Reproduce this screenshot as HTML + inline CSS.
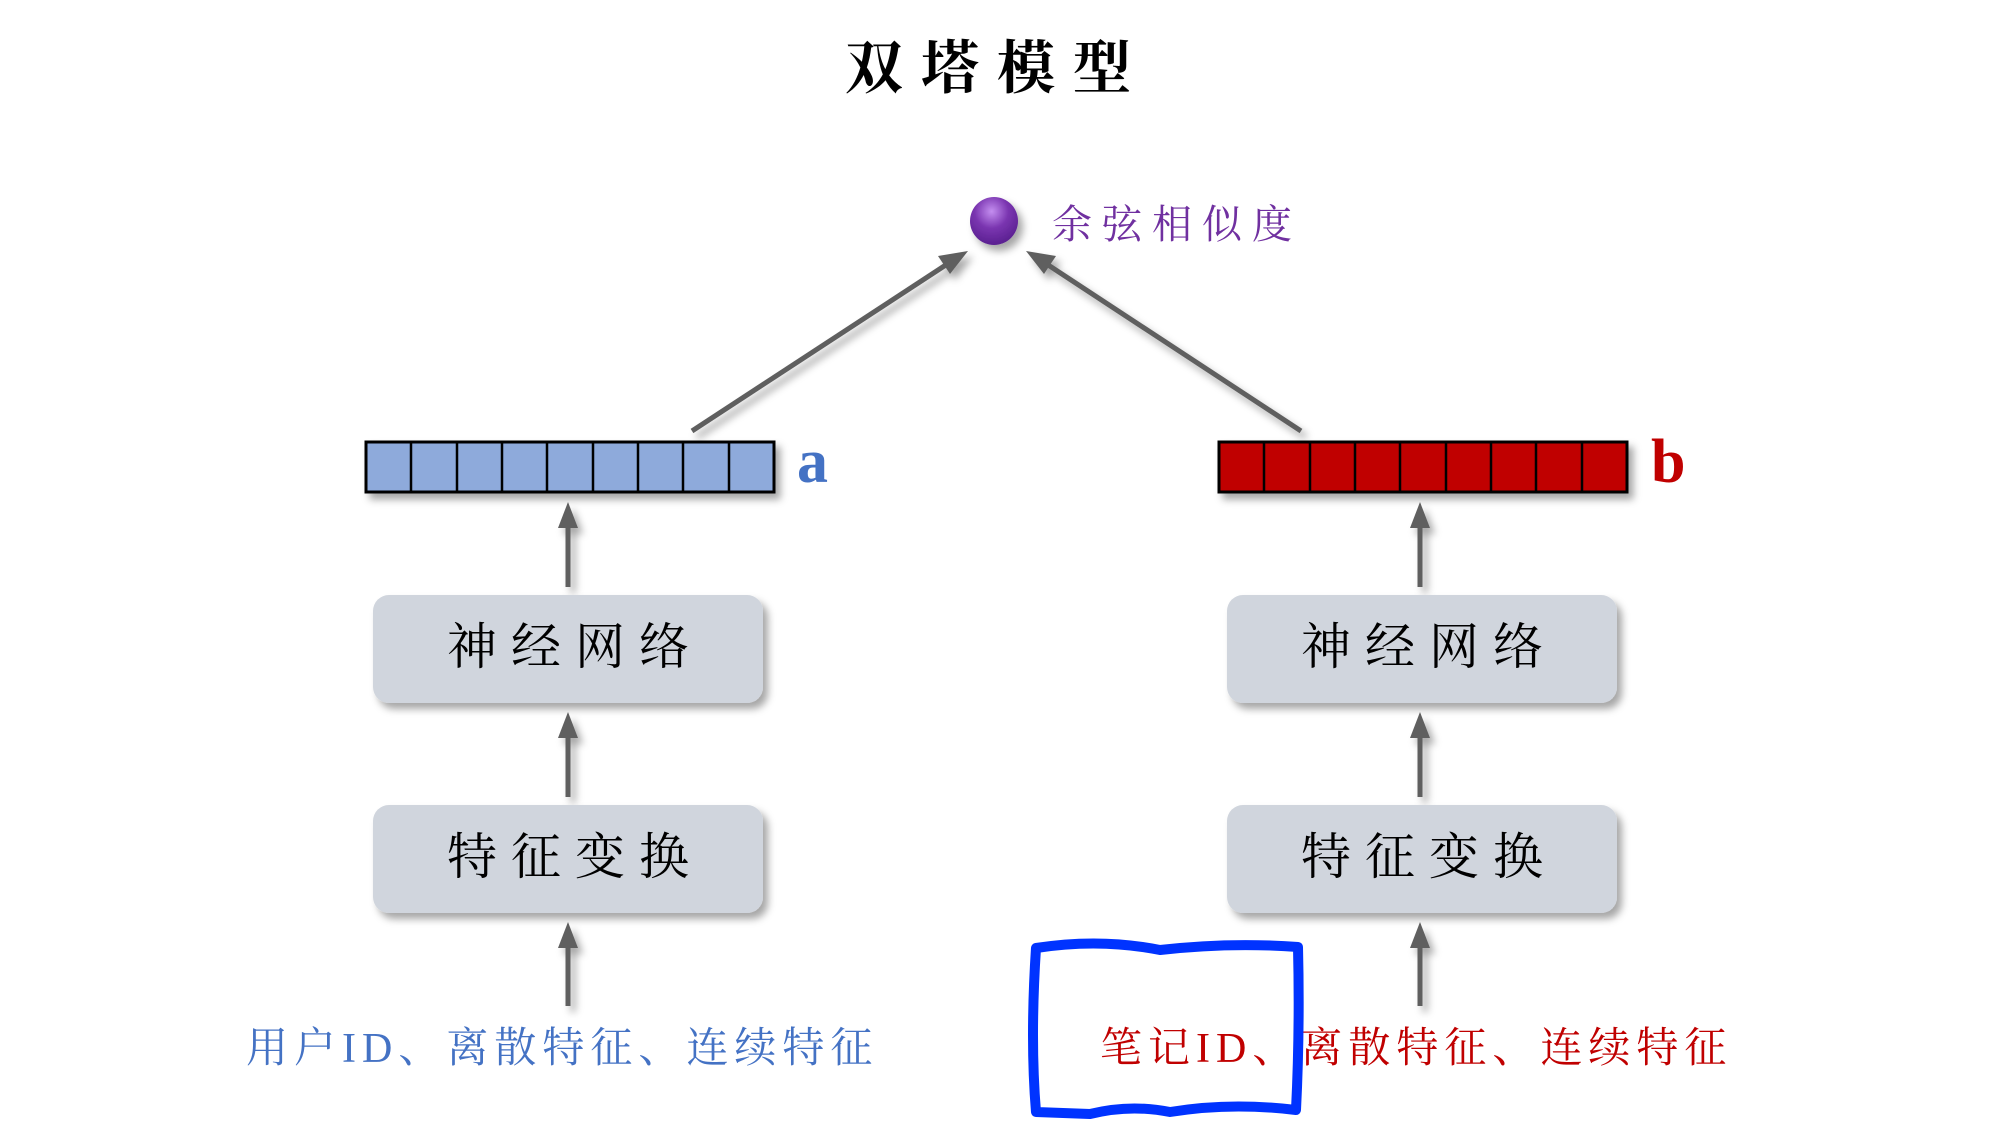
<!DOCTYPE html>
<html><head><meta charset="utf-8"><style>
html,body{margin:0;padding:0;background:#fff;}
svg{display:block;}
text{font-family:"Liberation Serif","Noto Serif CJK SC",serif;}
</style></head><body>
<svg width="2000" height="1125" viewBox="0 0 2000 1125" xmlns="http://www.w3.org/2000/svg">
<defs>
<radialGradient id="ball" cx="0.45" cy="0.3" r="0.7">
<stop offset="0" stop-color="#c48ef0"/><stop offset="0.5" stop-color="#7a35b0"/><stop offset="1" stop-color="#5a2090"/>
</radialGradient>
<filter id="sh" x="-20%" y="-20%" width="150%" height="160%"><feDropShadow dx="5" dy="6" stdDeviation="4" flood-color="#000" flood-opacity="0.35"/></filter>
<marker id="ah" markerWidth="10" markerHeight="10" refX="8" refY="5" orient="auto" markerUnits="userSpaceOnUse" viewBox="0 0 10 10">
</marker>
</defs>
<text x="997" y="88" font-size="58" font-weight="bold" text-anchor="middle" letter-spacing="18" fill="#000">双塔模型</text>
<circle cx="994" cy="221" r="24" fill="url(#ball)" filter="url(#sh)"/>
<text x="1052" y="238" font-size="40" fill="#7030a0" letter-spacing="10">余弦相似度</text>
<g stroke="#5f5f5f" stroke-width="5" fill="#5f5f5f" filter="url(#sh)">
<line x1="692" y1="431" x2="958" y2="257"/>
<polygon points="968,251 938,256 950,274" stroke="none"/>
<line x1="1301" y1="431" x2="1036" y2="257"/>
<polygon points="1026,251 1044,274 1056,256" stroke="none"/>
<line x1="568" y1="587" x2="568" y2="515"/><polygon points="568,502 558,528 578,528" stroke="none"/>
<line x1="568" y1="797" x2="568" y2="725"/><polygon points="568,712 558,738 578,738" stroke="none"/>
<line x1="568" y1="1006" x2="568" y2="935"/><polygon points="568,922 558,948 578,948" stroke="none"/>
<line x1="1420" y1="587" x2="1420" y2="515"/><polygon points="1420,502 1410,528 1430,528" stroke="none"/>
<line x1="1420" y1="797" x2="1420" y2="725"/><polygon points="1420,712 1410,738 1430,738" stroke="none"/>
<line x1="1420" y1="1006" x2="1420" y2="935"/><polygon points="1420,922 1410,948 1430,948" stroke="none"/>
</g>
<g filter="url(#sh)">
<rect x="366" y="442" width="408" height="50" fill="#8eaadb" stroke="#000" stroke-width="3"/>
<rect x="1219" y="442" width="408" height="50" fill="#c00000" stroke="#000" stroke-width="3"/>
</g>
<g stroke="#000" stroke-width="2.5">
<line x1="411" y1="442" x2="411" y2="492"/><line x1="457" y1="442" x2="457" y2="492"/><line x1="502" y1="442" x2="502" y2="492"/><line x1="547" y1="442" x2="547" y2="492"/><line x1="593" y1="442" x2="593" y2="492"/><line x1="638" y1="442" x2="638" y2="492"/><line x1="683" y1="442" x2="683" y2="492"/><line x1="729" y1="442" x2="729" y2="492"/>
<line x1="1264" y1="442" x2="1264" y2="492"/><line x1="1310" y1="442" x2="1310" y2="492"/><line x1="1355" y1="442" x2="1355" y2="492"/><line x1="1400" y1="442" x2="1400" y2="492"/><line x1="1446" y1="442" x2="1446" y2="492"/><line x1="1491" y1="442" x2="1491" y2="492"/><line x1="1536" y1="442" x2="1536" y2="492"/><line x1="1582" y1="442" x2="1582" y2="492"/>
</g>
<text x="797" y="482" font-size="62" font-weight="bold" fill="#4472c4">a</text>
<text x="1651" y="482" font-size="62" font-weight="bold" fill="#c00000">b</text>
<g filter="url(#sh)" fill="#d0d5dd">
<rect x="373" y="595" width="390" height="108" rx="16"/>
<rect x="373" y="805" width="390" height="108" rx="16"/>
<rect x="1227" y="595" width="390" height="108" rx="16"/>
<rect x="1227" y="805" width="390" height="108" rx="16"/>
</g>
<g font-size="50" fill="#000" text-anchor="middle" letter-spacing="14">
<text x="575" y="664">神经网络</text>
<text x="575" y="874">特征变换</text>
<text x="1429" y="664">神经网络</text>
<text x="1429" y="874">特征变换</text>
</g>
<text x="246" y="1062" font-size="42" fill="#4472c4" letter-spacing="6">用户ID、离散特征、连续特征</text>
<text x="1100" y="1062" font-size="42" fill="#c00000" letter-spacing="6">笔记ID、离散特征、连续特征</text>
<path d="M1036,948 Q1100,938 1160,950 Q1230,942 1298,947 Q1300,1030 1296,1110 Q1230,1102 1170,1112 Q1130,1104 1090,1114 L1036,1112 Q1030,1040 1036,948 Z" fill="none" stroke="#0033ff" stroke-width="10" stroke-linejoin="round"/>
</svg>
</body></html>
